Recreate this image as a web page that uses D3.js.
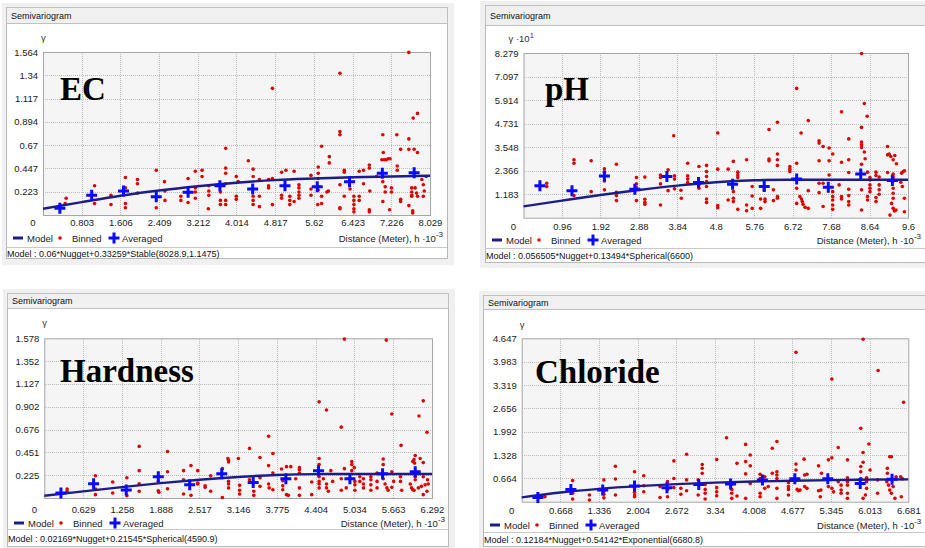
<!DOCTYPE html>
<html>
<head>
<meta charset="utf-8">
<script src="https://cdn.jsdelivr.net/npm/d3@7"></script>
<style>
body { margin: 0; background: #fff; }
svg { display: block; font-family: "Liberation Sans", Arial, sans-serif; }
.grid line { stroke: #bcbcbc; stroke-dasharray: 1,1; shape-rendering: crispEdges; }
.grid path { display: none; }
.lbl path { display: none; }
.lbl text { font-size: 9.5px; fill: #1a1a1a; }
</style>
</head>
<body>
<svg id="chart" width="925" height="548"></svg>
<script>
// ---- EC ----
var ecXTicks = ["0", "0.803", "1.606", "2.409", "3.212", "4.014", "4.817", "5.62", "6.423", "7.226", "8.029"];
var ecYTicks = ["0", "0.223", "0.447", "0.67", "0.894", "1.117", "1.34", "1.564"];
var ecModel = [[0,0.06],[0.803,0.124],[1.606,0.185],[2.409,0.235],[3.212,0.276],[4.014,0.31],[4.817,0.335],[5.62,0.35],[6.423,0.362],[7.226,0.37],[8.029,0.376]];
var ecAveraged = [[0.35,0.064],[1.01,0.19],[1.67,0.23],[2.35,0.176],[3.01,0.218],[3.67,0.28],[4.35,0.25],[5.02,0.28],[5.69,0.27],[6.36,0.32],[7.04,0.40],[7.70,0.406]];
var ecBinned = [[0.48,0.16],[0.46,0.11],[1.07,0.28],[1.07,0.11],[1.41,0.19],[1.41,0.10],[1.71,0.36],[1.71,0.26],[1.71,0.11],[1.71,0.07],[1.96,0.34],[1.96,0.30],[1.96,0.21],[2.35,0.43],[2.52,0.32],[2.53,0.23],[2.53,0.14],[2.35,0.07],[2.86,0.18],[2.86,0.14],[3.01,0.35],[3.01,0.21],[3.01,0.12],[3.16,0.42],[3.16,0.26],[3.16,0.22],[3.16,0.16],[3.30,0.43],[3.30,0.37],[3.44,0.28],[3.44,0.23],[3.44,0.19],[3.43,0.06],[3.79,0.64],[3.79,0.45],[3.79,0.40],[3.79,0.30],[3.68,0.22],[3.68,0.14],[3.68,0.10],[3.79,0.14],[3.79,0.10],[4.01,0.37],[4.01,0.18],[4.01,0.15],
  [4.05,0.32],[4.26,0.52],[4.36,0.44],[4.36,0.37],[4.36,0.18],[4.36,0.14],[4.36,0.10],[4.49,0.34],[4.49,0.18],[4.49,0.08],[4.68,0.34],[4.68,0.28],[4.68,0.26],[4.76,1.215],[4.76,0.35],[4.76,0.10],[4.95,0.41],[4.95,0.19],[4.95,0.16],[5.04,0.43],[5.12,0.18],[5.12,0.14],[5.12,0.10],[5.21,0.42],[5.21,0.13],[5.31,0.29],[5.31,0.26],[5.31,0.22],[5.31,0.19],[5.31,0.16],[5.56,0.38],[5.56,0.25],[5.56,0.19],[5.71,0.46],[5.71,0.40],[5.71,0.35],[5.71,0.27],[5.71,0.24],[5.70,0.10],[5.78,0.18],[5.78,0.11],[5.78,0.66],[5.89,0.22],[5.92,0.23],[5.94,0.56],[5.94,0.50],[6.16,1.36],[6.16,0.80],[6.16,0.77],[6.16,0.29],[6.16,0.07],[6.16,0.06],[6.25,0.43],[6.25,0.41],[6.25,0.18],[6.37,0.25],[6.45,0.18],[6.45,0.14],[6.45,0.10],[6.45,0.06],[6.45,0.03],[6.56,0.18],[6.56,0.14],[6.56,0.42],[6.65,0.43],[6.65,0.30],[6.77,0.48],[6.77,0.45],[6.77,0.05],[6.77,0.03],[6.78,0.23],[6.92,0.37],[7.05,0.77],[7.06,0.60],[7.03,0.53],[7.08,0.53],[7.12,0.53],[7.16,0.54],[7.20,0.54],[7.05,0.37],[7.05,0.32],[7.05,0.13],[7.10,0.27],[7.10,0.22],[7.23,0.26],[7.23,0.22],[7.19,0.05],[7.34,0.77],[7.35,0.47],[7.35,0.43],[7.42,0.63],[7.42,0.13],[7.42,0.15],[7.59,1.56],[7.59,0.73],[7.59,0.63],[7.59,0.09],[7.68,0.93],[7.77,0.975],[7.70,0.63],[7.77,0.60],[7.65,0.26],[7.65,0.22],[7.65,0.19],[7.65,0.18],[7.72,0.26],[7.75,0.21],[7.77,0.18],[7.67,0.04],[7.67,0.02],[7.86,0.34],[7.89,0.29],[7.91,0.23],[7.89,0.18],[7.95,0.37]];

// ---- pH (gamma x 10) ----
var phXTicks = ["0", "0.96", "1.92", "2.88", "3.84", "4.8", "5.76", "6.72", "7.68", "8.64", "9.6"];
var phYTicks = ["0", "1.183", "2.366", "3.548", "4.731", "5.914", "7.097", "8.279"];
var phModel = [[0,0.57],[0.96,0.86],[1.92,1.14],[2.88,1.39],[3.84,1.61],[4.8,1.78],[5.76,1.88],[6.6,1.91],[9.6,1.91]];
var phAveraged = [[0.41,1.60],[1.21,1.36],[2.02,2.10],[2.78,1.43],[3.58,2.07],[4.37,1.77],[5.22,1.68],[6.01,1.57],[6.82,1.94],[7.61,1.53],[8.42,2.20],[9.21,1.87]];
var phBinned = [[0.58,1.73],[0.58,1.57],[1.26,2.91],[1.26,2.74],[1.26,1.11],[1.69,2.86],[1.69,1.31],[2.02,2.46],[2.02,2.29],[2.02,1.85],[2.02,1.40],[2.32,2.69],[2.32,1.28],[2.32,1.11],[2.32,0.86],[2.82,2.02],[2.82,1.70],[2.82,1.51],[2.82,0.86],[3.03,2.04],[3.03,0.93],[3.03,0.77],[3.03,0.67],[3.42,2.15],[3.42,2.02],[3.42,1.70],[3.42,0.64],[3.61,2.41],[3.61,1.36],[3.75,4.12],[3.77,2.10],[3.77,1.94],[3.77,1.45],[3.93,1.38],[3.94,0.98],[4.10,2.74],[4.10,2.10],[4.10,1.94],[4.10,1.77],[4.38,2.57],[4.38,1.65],[4.38,1.48],
  [4.57,2.63],[4.57,2.32],[4.57,2.07],[4.57,1.82],[4.57,1.57],[4.57,0.94],[4.57,0.77],[4.85,4.26],[4.85,2.44],[4.85,0.61],[4.85,0.50],[5.11,2.44],[5.11,0.89],[5.24,2.83],[5.24,1.31],[5.24,0.98],[5.24,0.81],[5.35,2.29],[5.35,2.15],[5.35,2.02],[5.35,0.42],[5.57,2.91],[5.57,0.64],[5.57,0.35],[5.71,1.57],[5.71,1.09],[5.71,0.47],[5.92,0.94],[5.92,0.47],[6.01,1.40],[6.03,0.94],[6.03,0.81],[6.13,4.43],[6.13,2.95],[6.13,2.86],[6.24,1.40],[6.24,0.86],[6.34,4.80],[6.34,3.20],[6.34,2.91],[6.34,2.63],[6.34,1.06],[6.34,0.98],[6.65,2.57],[6.65,2.44],[6.65,2.32],[6.82,6.50],[6.82,2.74],[6.82,1.48],[6.82,0.72],[6.93,4.26],[6.90,1.06],[6.94,0.94],[6.96,0.81],[6.98,0.67],[7.03,0.52],[7.11,4.88],[7.11,1.36],[7.11,0.47],[7.38,3.87],[7.38,3.75],[7.38,2.86],[7.38,1.73],[7.38,1.26],[7.48,3.58],[7.48,0.56],[7.48,1.73],[7.63,3.50],[7.63,2.86],[7.63,2.15],[7.72,3.20],[7.72,1.31],[7.72,1.06],[7.72,0.89],[7.72,0.64],[7.72,0.42],[7.94,5.32],[7.94,2.79],[7.88,1.65],[7.94,1.06],[7.94,0.94],[8.12,3.96],[8.12,2.91],[8.12,2.27],[8.12,1.43],[8.12,1.11],[8.12,0.81],[8.12,0.64],[8.44,8.25],[8.51,5.74],[8.58,5.10],[8.44,4.54],[8.44,3.80],[8.44,3.67],[8.44,3.53],[8.51,3.30],[8.53,2.96],[8.44,2.69],[8.44,1.40],[8.44,0.39],[8.59,2.29],[8.59,1.06],[8.59,0.89],[8.65,2.02],[8.65,1.90],[8.65,1.65],[8.65,1.48],[8.65,1.31],[8.80,2.29],[8.80,2.12],[8.80,1.01],[8.80,0.81],[8.88,2.04],[8.88,1.65],[8.88,1.40],[8.88,1.18],[9.09,3.58],[9.09,3.16],[9.13,3.20],[9.17,3.08],[9.09,2.27],[9.23,2.91],[9.27,3.13],[9.23,2.19],[9.23,2.02],[9.23,1.85],[9.23,1.48],[9.23,1.23],[9.23,0.98],[9.19,0.72],[9.23,0.47],[9.26,0.34],[9.30,0.39],[9.15,0.13],[9.44,2.24],[9.48,2.32],[9.51,2.36],[9.42,1.78],[9.46,1.57],[9.51,0.98],[9.51,0.30],[9.31,2.71]];

// ---- Hardness ----
var hardXTicks = ["0", "0.629", "1.258", "1.888", "2.517", "3.146", "3.775", "4.404", "5.034", "5.663", "6.292"];
var hardYTicks = ["0", "0.225", "0.451", "0.676", "0.902", "1.127", "1.352", "1.578"];
var hardModel = [[0,0.022],[0.629,0.066],[1.258,0.108],[1.888,0.147],[2.517,0.181],[3.146,0.208],[3.775,0.227],[4.404,0.236],[4.59,0.237],[6.292,0.237]];
var hardAveraged = [[0.27,0.05],[0.80,0.14],[1.33,0.08],[1.85,0.21],[2.36,0.13],[2.88,0.24],[3.39,0.154],[3.92,0.19],[4.45,0.27],[4.96,0.19],[5.49,0.24],[6.02,0.26]];
var hardBinned = [[0.37,0.089],[0.37,0.066],[0.83,0.22],[0.83,0.089],[0.83,0.033],[1.11,0.158],[1.11,0.05],[1.34,0.20],[1.34,0.023],[1.54,0.51],[1.54,0.27],[1.54,0.14],[1.54,0.066],[1.85,0.164],[1.85,0.072],[1.86,0.056],[2.00,0.46],[2.00,0.26],[2.00,0.092],[2.26,0.27],[2.26,0.18],[2.26,0.04],[2.38,0.32],[2.38,0.026],[2.49,0.27],[2.49,0.148],[2.49,0.138],[2.61,0.12],[2.61,0.105],[2.70,0.22],[2.70,0.066],[2.89,0.29],[2.89,0.005],[2.98,0.39],[2.99,0.37],[2.99,0.355],[2.99,0.164],[2.99,0.138],[2.99,0.10],[3.15,0.39],
  [3.17,0.125],[3.17,0.076],[3.17,0.04],[3.33,0.49],[3.33,0.18],[3.40,0.066],[3.40,0.026],[3.50,0.40],[3.50,0.20],[3.50,0.115],[3.64,0.61],[3.64,0.32],[3.64,0.138],[3.65,0.10],[3.71,0.44],[3.71,0.246],[3.71,0.082],[3.85,0.286],[3.87,0.17],[3.87,0.12],[3.87,0.082],[3.93,0.31],[3.93,0.033],[3.96,0.026],[4.00,0.31],[4.08,0.19],[4.14,0.30],[4.14,0.28],[4.14,0.246],[4.14,0.10],[4.14,0.026],[4.34,0.158],[4.34,0.033],[4.46,0.95],[4.46,0.39],[4.46,0.33],[4.46,0.21],[4.46,0.164],[4.46,0.138],[4.46,0.10],[4.58,0.87],[4.53,0.19],[4.58,0.138],[4.58,0.10],[4.61,0.066],[4.65,0.27],[4.68,0.164],[4.82,0.70],[4.82,0.19],[4.82,0.076],[4.87,0.29],[4.87,1.57],[4.90,0.10],[4.99,0.36],[4.99,0.33],[4.99,0.27],[5.03,0.30],[5.04,0.164],[5.04,0.13],[5.04,0.076],[5.12,0.21],[5.12,0.164],[5.18,0.19],[5.18,0.138],[5.18,0.10],[5.30,0.21],[5.30,0.18],[5.30,0.13],[5.30,0.076],[5.40,0.246],[5.40,0.164],[5.40,0.10],[5.50,0.385],[5.50,0.33],[5.50,0.19],[5.53,0.138],[5.56,0.10],[5.58,0.076],[5.55,1.56],[5.64,0.83],[5.64,0.26],[5.67,0.164],[5.64,0.105],[5.79,0.52],[5.78,0.21],[5.78,0.164],[5.80,0.076],[5.94,0.138],[5.96,0.10],[5.98,0.082],[6.00,0.076],[6.02,0.42],[6.00,0.38],[5.98,0.36],[6.01,0.345],[6.02,0.21],[6.02,0.18],[6.08,0.81],[6.15,0.96],[6.10,0.39],[6.15,0.35],[6.07,0.10],[6.12,0.115],[6.18,0.13],[6.21,0.65],[6.15,0.21],[6.22,0.18],[6.23,0.138],[6.21,0.066],[6.15,0.033]];

// ---- Chloride ----
var chlXTicks = ["0", "0.668", "1.336", "2.004", "2.672", "3.34", "4.008", "4.677", "5.345", "6.013", "6.681"];
var chlYTicks = ["0", "0.664", "1.328", "1.992", "2.656", "3.319", "3.983", "4.647"];
var chlModel = [[0,0.122],[0.668,0.262],[1.336,0.366],[2.004,0.443],[2.672,0.50],[3.34,0.543],[4.008,0.574],[4.677,0.597],[5.345,0.614],[6.013,0.627],[6.681,0.636]];
var chlAveraged = [[0.28,0.12],[0.85,0.35],[1.40,0.33],[1.95,0.45],[2.51,0.40],[3.06,0.49],[3.61,0.50],[4.16,0.62],[4.72,0.65],[5.29,0.65],[5.85,0.52],[6.40,0.64]];
var chlBinned = [[0.40,0.14],[0.88,0.60],[0.88,0.24],[0.88,0.076],[1.17,0.19],[1.17,0.047],[1.42,0.62],[1.42,0.30],[1.42,0.21],[1.42,0.11],[1.62,1.01],[1.62,0.645],[1.62,0.19],[1.95,0.85],[1.95,0.40],[1.95,0.27],[1.95,0.19],[1.95,0.14],[2.11,0.74],[2.11,0.455],[2.11,0.285],[2.39,0.43],[2.39,0.12],[2.52,0.57],[2.52,0.35],[2.52,0.14],[2.63,1.16],[2.63,0.66],[2.63,0.40],[2.75,0.38],[2.75,0.21],[2.85,1.35],[2.85,0.62],[2.85,0.31],[3.05,0.62],[3.05,0.19],[3.12,1.06],[3.12,0.95],[3.12,0.81],
  [3.17,0.49],[3.17,0.35],[3.17,0.24],[3.17,0.076],[3.37,1.20],[3.37,0.40],[3.37,0.28],[3.37,0.17],[3.54,1.82],[3.63,0.49],[3.63,0.35],[3.63,0.24],[3.63,0.095],[3.72,1.09],[3.72,0.16],[3.87,1.63],[3.87,1.14],[3.87,0.79],[3.95,1.33],[3.95,1.02],[3.95,0.52],[3.87,0.095],[4.12,0.78],[4.12,0.66],[4.12,0.24],[4.12,0.14],[4.20,0.71],[4.20,0.38],[4.26,0.43],[4.33,1.52],[4.41,1.71],[4.33,0.81],[4.41,0.85],[4.41,0.76],[4.41,0.66],[4.41,0.38],[4.41,0.095],[4.61,0.54],[4.61,0.43],[4.61,0.35],[4.61,0.19],[4.74,4.25],[4.74,1.07],[4.74,0.90],[4.76,0.35],[4.78,0.31],[4.81,0.33],[4.88,1.21],[4.89,0.76],[4.93,0.78],[4.89,0.43],[4.93,0.38],[5.13,1.02],[5.13,0.31],[5.17,0.33],[5.16,0.14],[5.18,0.81],[5.30,1.19],[5.36,3.49],[5.36,1.25],[5.30,0.43],[5.36,0.38],[5.39,0.28],[5.47,1.54],[5.47,0.57],[5.52,0.47],[5.52,0.33],[5.52,0.24],[5.63,1.19],[5.63,0.68],[5.63,0.57],[5.63,0.47],[5.63,0.24],[5.63,0.095],[5.86,2.09],[5.90,4.62],[5.90,1.40],[5.90,1.12],[5.86,1.00],[5.86,0.85],[5.86,0.66],[5.86,0.52],[5.96,0.68],[5.96,0.57],[5.96,0.38],[5.94,0.19],[5.90,0.095],[6.00,1.64],[6.02,0.90],[6.16,3.73],[6.15,0.62],[6.15,0.24],[6.32,0.95],[6.32,0.81],[6.36,1.28],[6.39,1.28],[6.31,0.57],[6.34,0.47],[6.36,0.33],[6.39,0.24],[6.45,0.095],[6.42,0.43],[6.47,0.71],[6.55,0.71],[6.58,0.65],[6.56,0.14],[6.60,2.83]];

// layout of the four windows (pixel boxes only, no data)
var panels = [
  { name: "EC", xt: ecXTicks, yt: ecYTicks, model: ecModel, avg: ecAveraged, bin: ecBinned,
    modelText: "Model : 0.06*Nugget+0.33259*Stable(8028.9,1.1475)", yExp: null,
    outer: [2, 3, 454, 265], win: [6, 7, 447, 258], bar: 16,
    plot: [43, 52, 430, 215], xPad: 4.5, legY: 238, sepY: 247, modY: 256.5, gammaY: 41, bigX: 60, bigY: 100 },
  { name: "pH", xt: phXTicks, yt: phYTicks, model: phModel, avg: phAveraged, bin: phBinned,
    modelText: "Model : 0.056505*Nugget+0.13494*Spherical(6600)", yExp: "1",
    outer: [480, 1, 925, 268], win: [485, 5, 926, 262], bar: 20,
    plot: [523.5, 53, 908, 217.7], xPad: 6, legY: 240, sepY: 248, modY: 258.5, gammaY: 42, bigX: 545, bigY: 100 },
  { name: "Hardness", xt: hardXTicks, yt: hardYTicks, model: hardModel, avg: hardAveraged, bin: hardBinned,
    modelText: "Model : 0.02169*Nugget+0.21545*Spherical(4590.9)", yExp: null,
    outer: [3, 289, 455, 548], win: [7, 293, 448, 546], bar: 15,
    plot: [44.3, 338.3, 432, 498], xPad: 8.5, legY: 523, sepY: 529, modY: 541.5, gammaY: 326, bigX: 60, bigY: 382 },
  { name: "Chloride", xt: chlXTicks, yt: chlYTicks, model: chlModel, avg: chlAveraged, bin: chlBinned,
    modelText: "Model : 0.12184*Nugget+0.54142*Exponential(6680.8)", yExp: null,
    outer: [479, 291, 925, 548], win: [483, 295, 926, 546], bar: 14,
    plot: [521.7, 338.3, 908.3, 501.7], xPad: 5.5, legY: 525, sepY: 532, modY: 542.5, gammaY: 328, bigX: 535, bigY: 383 }
];

var svg = d3.select("#chart");
var RED = "#e00000", BLUE = "#0a0aff", NAVY = "#1c1c8a";
var crossPath = "M-5.5,0H5.5M0,-5.5V5.5";

panels.forEach(function(p) {
  var g = svg.append("g");
  var w = p.win;

  // window frame
  g.append("rect").attr("x", p.outer[0]).attr("y", p.outer[1])
    .attr("width", p.outer[2] - p.outer[0]).attr("height", p.outer[3] - p.outer[1]).attr("fill", "#f0f0f0");
  g.append("rect").attr("x", w[0] + 0.5).attr("y", w[1] + 0.5)
    .attr("width", w[2] - w[0]).attr("height", w[3] - w[1])
    .attr("fill", "#fff").attr("stroke", "#b8b8b8");
  // title bar
  g.append("rect").attr("x", w[0] + 0.5).attr("y", w[1] + 0.5)
    .attr("width", w[2] - w[0]).attr("height", p.bar)
    .attr("fill", "#f0f0f0").attr("stroke", "#c0c0c0");
  g.append("text").attr("x", w[0] + 5).attr("y", w[1] + p.bar / 2 + 3.5)
    .attr("font-size", "9px").attr("fill", "#111").text("Semivariogram");

  var xVals = p.xt.map(Number), yVals = p.yt.map(Number);
  var x = d3.scaleLinear().domain([0, xVals[xVals.length - 1]]).range([p.plot[0], p.plot[2]]);
  var y = d3.scaleLinear().domain([0, yVals[yVals.length - 1]]).range([p.plot[3], p.plot[1]]);
  var pw = p.plot[2] - p.plot[0], ph = p.plot[3] - p.plot[1];

  // plot background + grid
  g.append("rect").attr("x", p.plot[0]).attr("y", p.plot[1]).attr("width", pw).attr("height", ph).attr("fill", "#f5f5f5");
  g.append("g").attr("class", "grid").attr("transform", "translate(0," + p.plot[3] + ")")
    .call(d3.axisBottom(x).tickValues(xVals.slice(1, -1)).tickSize(-ph).tickFormat(""));
  g.append("g").attr("class", "grid").attr("transform", "translate(" + p.plot[0] + ",0)")
    .call(d3.axisLeft(y).tickValues(yVals.slice(1, -1)).tickSize(-pw).tickFormat(""));
  g.append("rect").attr("x", p.plot[0] + 0.5).attr("y", p.plot[1] + 0.5).attr("width", pw).attr("height", ph)
    .attr("fill", "none").attr("stroke", "#a6a6a6");

  // tick labels
  g.append("g").attr("class", "lbl").attr("transform", "translate(0," + p.plot[3] + ")")
    .call(d3.axisBottom(x).tickValues(xVals.slice(1)).tickSize(0).tickPadding(p.xPad)
      .tickFormat(function(d, i) { return p.xt[i + 1]; }));
  g.append("g").attr("class", "lbl").attr("transform", "translate(" + p.plot[0] + ",0)")
    .call(d3.axisLeft(y).tickValues(yVals.slice(1)).tickSize(0).tickPadding(5)
      .tickFormat(function(d, i) { return p.yt[i + 1]; }));
  g.append("text").attr("x", p.plot[0] - 10).attr("y", p.plot[3] + p.xPad + 6.7)
    .attr("text-anchor", "middle").attr("font-size", "9.5px").attr("fill", "#1a1a1a").text(p.xt[0]);

  // y-axis caption
  var gt = g.append("text").attr("x", p.plot[0] - (p.yExp ? 15 : 2)).attr("y", p.gammaY)
    .attr("font-size", "9.5px").attr("fill", "#333").text("γ");
  if (p.yExp) {
    gt.append("tspan").text(" ·10");
    gt.append("tspan").attr("dy", -4).attr("font-size", "7.5px").text(p.yExp);
  }

  // big variable label
  g.append("text").attr("x", p.bigX).attr("y", p.bigY)
    .attr("font-family", "'Liberation Serif', 'Times New Roman', serif")
    .attr("font-weight", "bold").attr("font-size", "33px").attr("fill", "#000").text(p.name);

  // binned points
  g.append("g").selectAll("circle").data(p.bin).enter().append("circle")
    .attr("cx", function(d) { return x(d[0]); })
    .attr("cy", function(d) { return y(d[1]); })
    .attr("r", 1.8).attr("fill", RED);

  // model curve
  var line = d3.line().x(function(d) { return x(d[0]); }).y(function(d) { return y(d[1]); })
    .curve(d3.curveMonotoneX);
  g.append("path").datum(p.model).attr("d", line)
    .attr("fill", "none").attr("stroke", NAVY).attr("stroke-width", 2.4);

  // averaged crosses
  g.append("g").selectAll("path").data(p.avg).enter().append("path")
    .attr("transform", function(d) { return "translate(" + x(d[0]) + "," + y(d[1]) + ")"; })
    .attr("d", crossPath).attr("stroke", BLUE).attr("stroke-width", 3).attr("fill", "none");

  // legend
  var lx = w[0], ly = p.legY;
  var leg = g.append("g").attr("font-size", "9.5px").attr("fill", "#1a1a1a");
  leg.append("line").attr("x1", lx + 7).attr("x2", lx + 17).attr("y1", ly).attr("y2", ly)
    .attr("stroke", NAVY).attr("stroke-width", 3);
  leg.append("text").attr("x", lx + 21).attr("y", ly + 3.5).text("Model");
  leg.append("circle").attr("cx", lx + 54).attr("cy", ly).attr("r", 1.8).attr("fill", RED);
  leg.append("text").attr("x", lx + 66).attr("y", ly + 3.5).text("Binned");
  leg.append("path").attr("transform", "translate(" + (lx + 108) + "," + ly + ")")
    .attr("d", crossPath).attr("stroke", BLUE).attr("stroke-width", 3);
  leg.append("text").attr("x", lx + 116).attr("y", ly + 3.5).text("Averaged");
  var dt = leg.append("text").attr("x", p.plot[2] + 13).attr("y", ly + 3.5).attr("text-anchor", "end")
    .text("Distance (Meter), h ·10");
  dt.append("tspan").attr("dy", -5).attr("font-size", "8px").text("-3");

  // model formula line
  g.append("line").attr("x1", w[0]).attr("x2", w[2]).attr("y1", p.sepY + 0.5).attr("y2", p.sepY + 0.5)
    .attr("stroke", "#c8c8c8");
  g.append("text").attr("x", w[0] + 1).attr("y", p.modY).attr("font-size", "9px").attr("fill", "#111")
    .text(p.modelText);
});
</script>
</body>
</html>
